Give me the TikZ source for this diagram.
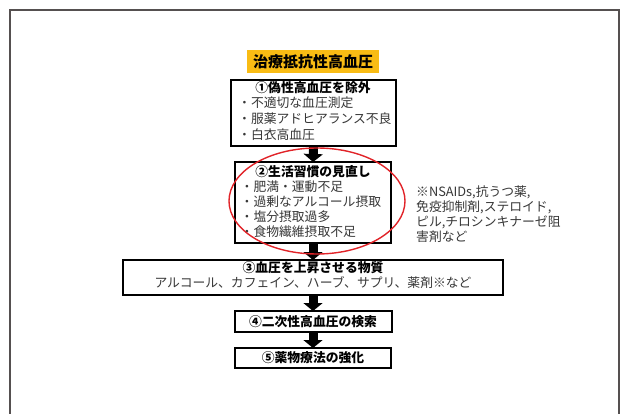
\documentclass[tikz,border=0pt]{standalone}
\usepackage{fontspec}
\setmainfont{Noto Sans CJK JP}
\usetikzlibrary{arrows.meta,shapes.geometric}
\definecolor{txtgray}{RGB}{55,55,55}
\definecolor{framecol}{RGB}{85,80,80}
\definecolor{ttlyellow}{RGB}{249,188,20}
\definecolor{ellred}{RGB}{225,35,40}
\tikzset{
  boxs/.style={draw=black, line width=2pt, fill=white, inner sep=0pt, outer sep=0pt},
  itemtxt/.style={font=\fontsize{12.8}{15}\selectfont, text=txtgray, inner sep=0pt, anchor=west, text height=11pt, text depth=1.5pt},
  ttl/.style={font=\bfseries\fontsize{12.8}{15}\selectfont, text=black, inner sep=0pt, text height=11pt, text depth=1.5pt},
  flow/.style={-{Triangle[width=19pt,length=8pt]}, line width=9pt, draw=black},
}
\begin{document}
\begin{tikzpicture}[x=1pt,y=-1pt]
\useasboundingbox (0,0) rectangle (621,414);
\clip (0,0) rectangle (621,414);
\draw[framecol, line width=1.5pt] (10,10) rectangle (619,440);

% title
\node[fill=ttlyellow, minimum width=132pt, minimum height=23pt, inner sep=0pt,
      font=\bfseries\fontsize{15}{18}\selectfont] (title) at (313,61.5) {治療抵抗性高血圧};

% boxes
\node[boxs, minimum width=165pt, minimum height=66pt] (b1) at (313.5,113) {};
\node[boxs, minimum width=156pt, minimum height=81pt] (b2) at (313,202.5) {};
\node[boxs, minimum width=380pt, minimum height=35pt] (b3) at (313,277.5) {};
\node[boxs, minimum width=157pt, minimum height=21pt] (b4) at (313,321.5) {};
\node[boxs, minimum width=156pt, minimum height=20pt] (b5) at (313,358) {};

% arrows
\draw[flow] (b1.south) -- (b2.north);
\draw[flow] (b2.south) -- (b3.north);
\draw[flow] (b3.south) -- (b4.north);
\draw[flow] (b4.south) -- (b5.north);

% box 1 text
\node[ttl] (t1) at (313,88) {①偽性高血圧を除外};
\node[itemtxt] (i11) at (238,103) {・不適切な血圧測定};
\node[itemtxt] (i12) at (238,119) {・服薬アドヒアランス不良};
\node[itemtxt] (i13) at (238,135) {・白衣高血圧};

% box 2 text
\node[ttl] (t2) at (313,172) {②生活習慣の見直し};
\node[itemtxt] (i21) at (240.5,187) {・肥満・運動不足};
\node[itemtxt] (i22) at (240.5,202) {・過剰なアルコール摂取};
\node[itemtxt] (i23) at (240.5,217) {・塩分摂取過多};
\node[itemtxt] (i24) at (240.5,232) {・食物繊維摂取不足};

% box 3 text
\node[ttl] (t3) at (313,268) {③血圧を上昇させる物質};
\node[itemtxt, anchor=center] (i31) at (313,283) {アルコール、カフェイン、ハーブ、サプリ、薬剤※など};

% box 4, 5 text
\node[ttl] (t4) at (313,321.5) {④二次性高血圧の検索};
\node[ttl] (t5) at (313,358) {⑤薬物療法の強化};

% note
\node[itemtxt] (n1) at (416,192) {※NSAIDs,抗うつ薬,};
\node[itemtxt] (n2) at (416,207) {免疫抑制剤,ステロイド,};
\node[itemtxt] (n3) at (416,222) {ピル,チロシンキナーゼ阻};
\node[itemtxt] (n4) at (416,237) {害剤など};

% red ellipse
\node[ellipse, draw=ellred, line width=1.4pt, minimum width=176pt, minimum height=106pt, inner sep=0pt] (ell) at (317,201) {};
\end{tikzpicture}
\end{document}
